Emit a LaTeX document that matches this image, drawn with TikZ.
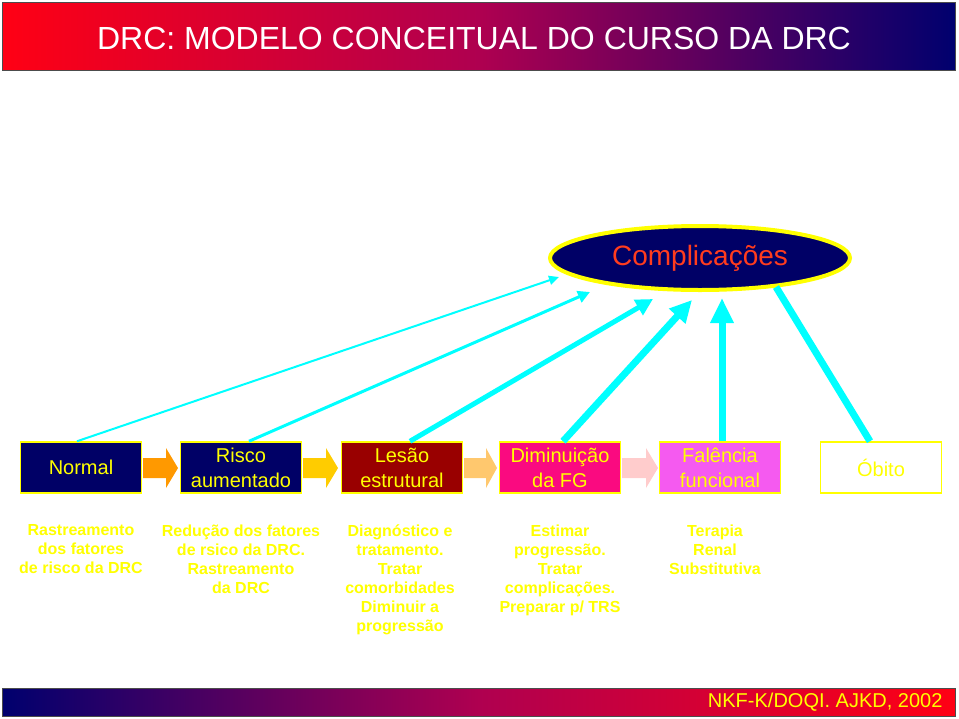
\documentclass[tikz,border=0pt]{standalone}
\usepackage{fontspec}
\setmainfont{Liberation Sans}
\usetikzlibrary{arrows.meta,shapes.geometric}
\definecolor{navy}{RGB}{0,0,102}
\definecolor{dkred}{RGB}{153,0,0}
\definecolor{hotpink}{RGB}{250,10,128}
\definecolor{violetpink}{RGB}{245,90,240}
\definecolor{yel}{RGB}{255,255,0}
\definecolor{cyn}{RGB}{0,255,255}
\definecolor{compred}{RGB}{255,60,30}
\definecolor{ar1}{RGB}{255,153,0}
\definecolor{ar2}{RGB}{255,204,0}
\definecolor{ar3}{RGB}{255,200,110}
\definecolor{ar4}{RGB}{255,204,204}
\definecolor{tleft}{RGB}{255,0,20}
\definecolor{tmid}{RGB}{175,0,80}
\definecolor{tright}{RGB}{0,0,110}
\newcommand\blockarrowpath[3]{% start x, head x, tip x
  (#1,458) -- (#2,458) -- (#2,448) -- (#3,468) -- (#2,488) -- (#2,478) -- (#1,478) -- cycle}
\tikzset{
  stagebox/.style={draw=yel, line width=1.5pt, minimum width=121pt, minimum height=51pt,
    inner sep=0pt, text=yel, align=center, font=\fontsize{20}{25}\selectfont},
  cyanarrow/.style={draw=cyn, line cap=butt},
  note/.style={text=yel, align=center, font=\bfseries\fontsize{16}{19}\selectfont, anchor=north}
}
\begin{document}
\begin{tikzpicture}[x=1pt,y=-1pt]
\useasboundingbox (0,0) rectangle (959,718);
% title band
\shade[left color=tleft, right color=tright, middle color=tmid] (2,2) rectangle (955,70);
\draw[draw=black!70, line width=1pt] (2,2) rectangle (955,70);
\node[text=white, font=\fontsize{32}{36}\selectfont] (title) at (474,38) {DRC: MODELO CONCEITUAL DO CURSO DA DRC};
% bottom band
\shade[left color=tright, right color=tleft, middle color=tmid] (2,688) rectangle (955,716);
\draw[draw=black!70, line width=0.8pt] (2,688) rectangle (955,716);
\node[text=yel, anchor=east, font=\fontsize{20}{22}\selectfont] (ref) at (946,702) {NKF-K/DOQI. AJKD, 2002};
% complications ellipse
\node[ellipse, fill=navy, draw=yel, line width=4pt, minimum width=300pt, minimum height=64pt, inner sep=0pt,
  text=compred, font=\fontsize{28}{30}\selectfont] (comp) at (700,258) {Complicações};
% stage boxes
\node[stagebox, fill=navy] (normal) at (81,467.5) {Normal};
\node[stagebox, fill=navy] (risco) at (241,467.5) {Risco\\aumentado};
\node[stagebox, fill=dkred] (lesao) at (402,467.5) {Lesão\\estrutural};
\node[stagebox, fill=hotpink] (dimin) at (560,467.5) {Diminuição\\da FG};
\node[stagebox, fill=violetpink] (falen) at (720,467.5) {Falência\\funcional};
\node[stagebox, fill=white] (obito) at (881,467.5) {Óbito};
% block arrows between stages
\fill[ar1] \blockarrowpath{143}{166}{178};
\fill[ar2] \blockarrowpath{303}{326}{338};
\fill[ar3] \blockarrowpath{464}{486}{497};
\fill[ar4] \blockarrowpath{622}{646}{658};
% arrow tips near ellipse
\coordinate (c1) at (559,277);
\coordinate (c2) at (590,292);
\coordinate (c3) at (653,299);
\coordinate (c4) at (692,300);
\coordinate (c5) at (722,298);
\coordinate (c6) at (776,287);
\draw[cyanarrow, line width=2pt, -{Triangle[length=10pt,width=9pt]}] ([xshift=-4pt]normal.north) -- (c1);
\draw[cyanarrow, line width=3pt, -{Triangle[length=12pt,width=12pt]}] ([xshift=8pt]risco.north) -- (c2);
\draw[cyanarrow, line width=5pt, -{Triangle[length=17pt,width=17pt]}] ([xshift=8pt]lesao.north) -- (c3);
\draw[cyanarrow, line width=7pt, -{Triangle[length=22pt,width=21pt]}] ([xshift=3pt]dimin.north) -- (c4);
\draw[cyanarrow, line width=7pt, -{Triangle[length=25pt,width=22pt]}] ([xshift=2pt]falen.north) -- (c5);
\draw[cyanarrow, line width=7pt] (c6) -- ([xshift=-11pt]obito.north);
% notes
\node[note] (n1) at (81,521) {Rastreamento\\dos fatores\\de risco da DRC};
\node[note] (n2) at (241,521) {Redução dos fatores\\de rsico da DRC.\\Rastreamento\\da DRC};
\node[note] (n3) at (400,521) {Diagnóstico e\\tratamento.\\Tratar\\comorbidades\\Diminuir a\\progressão};
\node[note] (n4) at (560,521) {Estimar\\progressão.\\Tratar\\complicações.\\Preparar p/ TRS};
\node[note] (n5) at (715,521) {Terapia\\Renal\\Substitutiva};
\end{tikzpicture}
\end{document}
